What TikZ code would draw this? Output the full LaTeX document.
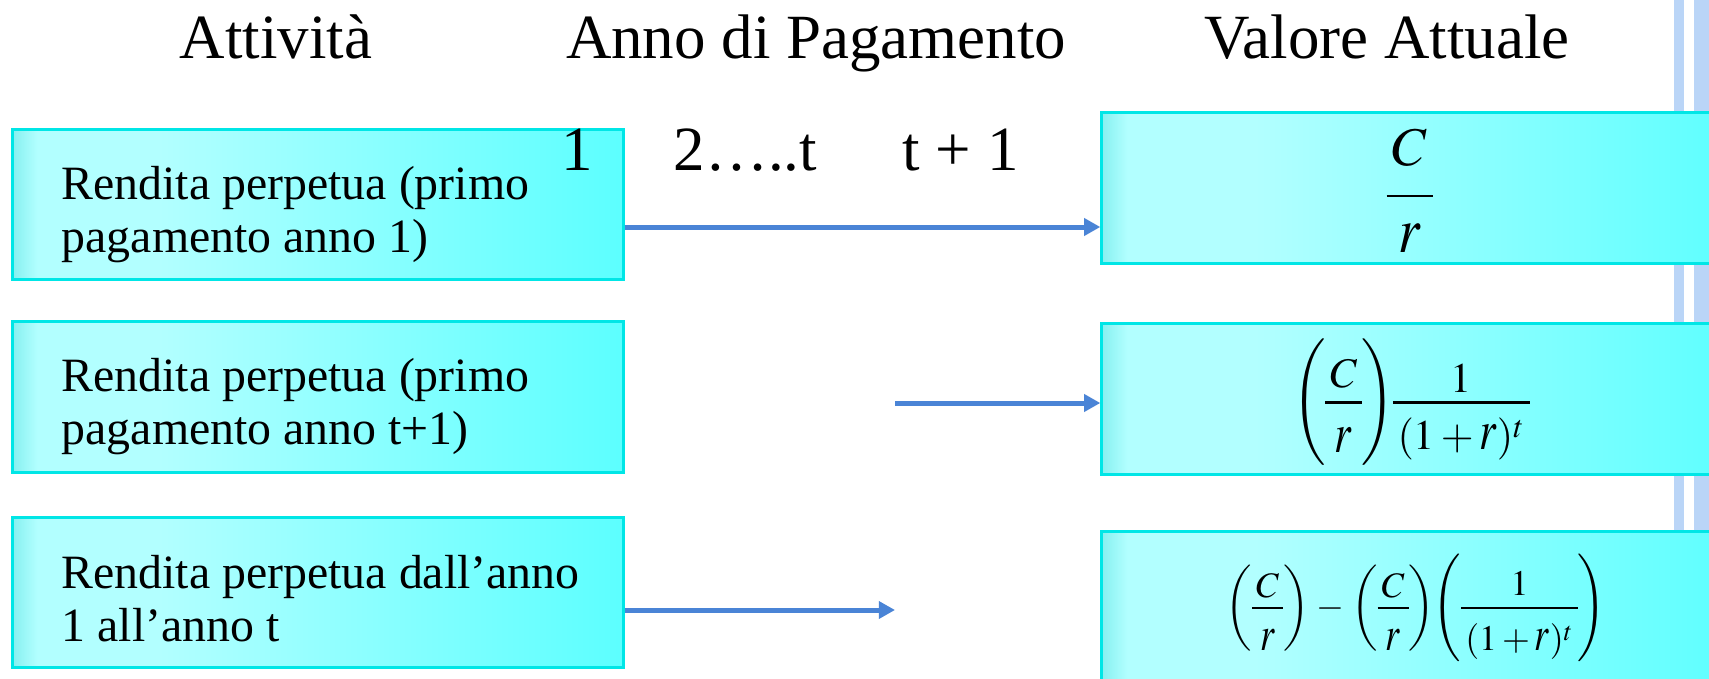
\documentclass[tikz,border=0pt]{standalone}
\usepackage{amsmath}
\usepackage{graphicx}
\usepackage{mathptmx}
\usepackage{fontspec}
\setmainfont{Liberation Serif}
\usetikzlibrary{arrows.meta}

\definecolor{boxedge}{HTML}{00E6E6}
\definecolor{shA}{HTML}{86F0F0}
\definecolor{shB}{HTML}{B2FFFF}
\definecolor{shC}{HTML}{5CFFFF}
\definecolor{arrowblue}{HTML}{4A84D6}
\definecolor{stripeblue}{HTML}{BAD5F7}

% cyan panel fill: darker rim on the left, light band, deeper cyan to the right
\pgfdeclarehorizontalshading{boxshade}{100bp}{color(0bp)=(shA); color(25bp)=(shA);
  color(27bp)=(shB); color(37bp)=(shB); color(75bp)=(shC); color(100bp)=(shC)}

% fraction with adjustable gaps: #1 rule thickness, #2 extra depth under the
% numerator, #3 strut height on the denominator; the bar overhangs a little
\newcommand{\gapfrac}[5]{\genfrac{}{}{#1}{0}%
  {\mkern2mu#4\rule[-#2]{0pt}{#2}\mkern2mu}{\mkern2mu\rule{0pt}{#3}#5\mkern2mu}}
% numerator set a little lower than TeX would put it
\newcommand{\low}[2]{\raisebox{-#1}{$#2$}}
% tall italic r of the equation editor
\newcommand{\tr}[1]{\mathord{\scalebox{1}[#1]{$r$}}}
% no thin space between adjacent bracketed groups
\newcommand{\tight}{\mkern-3mu}

\begin{document}
\begin{tikzpicture}[x=0.01cm, y=-0.01cm,
  panel/.style={rectangle, draw=boxedge, line width=0.85pt, shade, shading=boxshade, inner sep=0pt},
  hdr/.style={font=\fontsize{17.9}{21}\selectfont, inner sep=0pt},
  lbl/.style={font=\fontsize{13.6}{14.8}\selectfont, align=left, inner sep=0pt, anchor=base west},
  eq/.style={anchor=base, inner sep=0pt},
  arr/.style={draw=arrowblue, line width=1.42pt, -{Triangle[length=4.6pt,width=4.8pt]}}]

\useasboundingbox (0,0) rectangle (1709,678);
\clip (0,0) rectangle (1709,678);
\fill[white] (0,0) rectangle (1709,678);

% vertical stripes at the right margin
\fill[stripeblue] (1674,0) rectangle (1684,678);
\fill[stripeblue] (1694,0) rectangle (1709,678);

% column headings
\node[hdr, anchor=base] (H1) at (276,58) {Attività};
\node[hdr, anchor=base] (H2) at (816,58) {Anno di Pagamento};
\node[hdr, anchor=base] (H3) at (1387,58) {Valore Attuale};

% left panels
\node[panel, minimum width=6.10cm, minimum height=1.49cm] (L1) at (318,204.5) {};
\node[panel, minimum width=6.10cm, minimum height=1.50cm] (L2) at (318,397) {};
\node[panel, minimum width=6.10cm, minimum height=1.49cm] (L3) at (318,592.5) {};

% right panels
\node[panel, minimum width=6.38cm, minimum height=1.50cm] (R1) at (1421,188) {};
\node[panel, minimum width=6.38cm, minimum height=1.50cm] (R2) at (1421,399) {};
\node[panel, minimum width=6.38cm, minimum height=2.08cm] (R3) at (1421,636) {};

% panel texts (anchored on the baseline of the last line)
\node[lbl] (T1) at (61,252) {Rendita perpetua (primo\\pagamento anno 1)};
\node[lbl] (T2) at (61,444) {Rendita perpetua (primo\\pagamento anno t+1)};
\node[lbl] (T3) at (61,641) {Rendita perpetua dall’anno\\1 all’anno t};

% payment years
\node[hdr, anchor=base west] (N1) at (561,170) {1};
\node[hdr, anchor=base west] (N2) at (673,170) {2…..t};
\node[hdr, anchor=base west] (N3) at (902,170) {t + 1};

% present values
\node[eq] (F1) at (1410,210)
  {\fontsize{15.5}{18}\selectfont\nulldelimiterspace=0pt
   $\displaystyle \gapfrac{0.6pt}{0.43em}{0.89em}{C}{\tr{1.2}}$};
\node[eq] (F2) at (1411,413)
  {\fontsize{12}{14}\selectfont\nulldelimiterspace=0pt\medmuskip=2.5mu
   $\displaystyle
   \left(\gapfrac{0.6pt}{0em}{1.0em}{\low{0.07em}{C}}{\tr{1.35}}\rule[-1.15em]{0pt}{1.65em}\right)\tight
   \gapfrac{0.6pt}{0em}{0.95em}{\low{0.18em}{1}}{(1+\tr{1.35})^t}$};
\node[eq] (F3) at (1416,617)
  {\fontsize{10.2}{13}\selectfont\nulldelimiterspace=0pt\medmuskip=2.5mu
   $\displaystyle
   \left(\gapfrac{0.55pt}{0em}{1.0em}{\low{0.12em}{C}}{\tr{1.35}}\right)\mkern1mu-\mkern1mu
   \left(\gapfrac{0.55pt}{0em}{1.0em}{\low{0.12em}{C}}{\tr{1.35}}\right)\tight
   \left(\gapfrac{0.55pt}{0em}{1.0em}{\low{0.08em}{1}}{(1+\tr{1.35})^t}\right)$};

% connectors
\coordinate (a1) at (0,227);
\coordinate (s2) at (895,403);
\coordinate (e3) at (895,610);
\draw[arr] (L1.east |- a1) -- (R1.west |- a1);
\draw[arr] (s2) -- (R2.west |- s2);
\draw[arr] (L3.east |- e3) -- (e3);
\end{tikzpicture}
\end{document}
